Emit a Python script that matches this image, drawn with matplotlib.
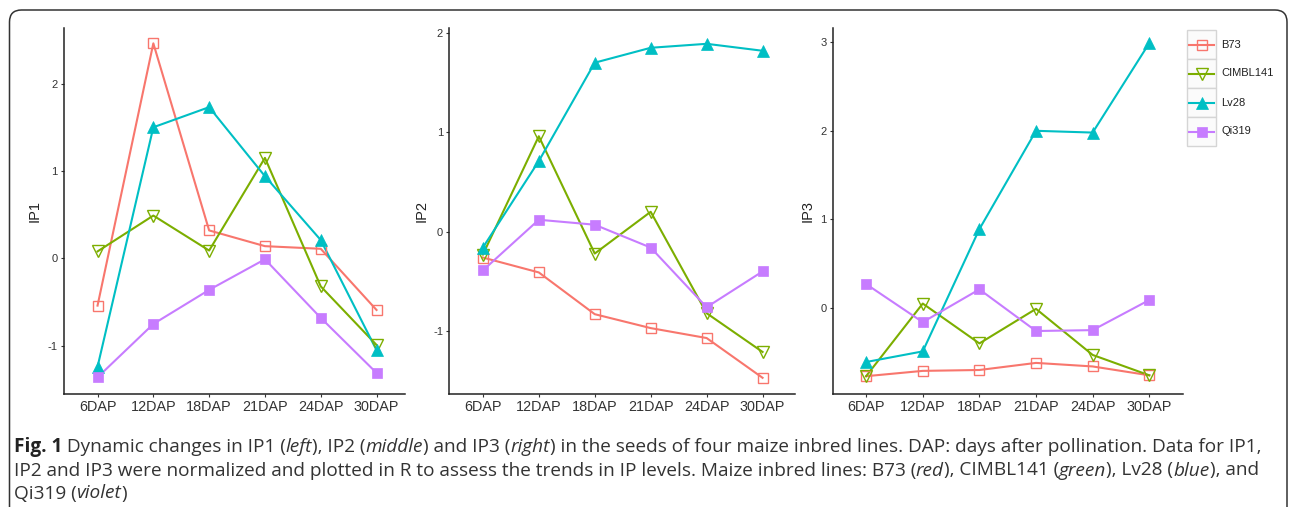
import matplotlib
matplotlib.use('Agg')
import matplotlib.pyplot as plt
from matplotlib.patches import FancyBboxPatch, Rectangle
from matplotlib.lines import Line2D
from matplotlib.transforms import IdentityTransform

# ---------------- data ----------------
stages = ['6DAP', '12DAP', '18DAP', '21DAP', '24DAP', '30DAP']
line_names = ['B73', 'CIMBL141', 'Lv28', 'Qi319']

ip1_b73 = [-0.54, 2.46, 0.32, 0.14, 0.11, -0.59]
ip1_cimbl141 = [0.08, 0.49, 0.09, 1.15, -0.32, -0.99]
ip1_lv28 = [-1.24, 1.50, 1.73, 0.94, 0.21, -1.05]
ip1_qi319 = [-1.36, -0.75, -0.36, -0.01, -0.68, -1.31]

ip2_b73 = [-0.26, -0.41, -0.83, -0.97, -1.07, -1.47]
ip2_cimbl141 = [-0.23, 0.96, -0.22, 0.20, -0.82, -1.21]
ip2_lv28 = [-0.16, 0.71, 1.70, 1.85, 1.89, 1.82]
ip2_qi319 = [-0.39, 0.12, 0.07, -0.16, -0.76, -0.40]

ip3_b73 = [-0.77, -0.71, -0.70, -0.62, -0.66, -0.76]
ip3_cimbl141 = [-0.77, 0.05, -0.40, -0.01, -0.53, -0.76]
ip3_lv28 = [-0.61, -0.49, 0.89, 2.00, 1.98, 2.99]
ip3_qi319 = [0.27, -0.16, 0.21, -0.26, -0.25, 0.09]

y_labels = ['IP1', 'IP2', 'IP3']
y_ticks = [[-1, 0, 1, 2], [-1, 0, 1, 2], [0, 1, 2, 3]]

# ---------------- styles ----------------
colors = ['#F8766D', '#7CAE00', '#00BFC4', '#C77CFF']
markers = ['s', 'v', '^', 's']
filled = [False, False, True, True]
msizes = [7.0, 8.5, 8.5, 7.5]

W, H = 1290, 507
fig = plt.figure(figsize=(W / 100, H / 100), dpi=100)
fig.patch.set_facecolor('white')
FONT = 'Liberation Sans'

panels = [
    [ip1_b73, ip1_cimbl141, ip1_lv28, ip1_qi319],
    [ip2_b73, ip2_cimbl141, ip2_lv28, ip2_qi319],
    [ip3_b73, ip3_cimbl141, ip3_lv28, ip3_qi319],
]
# axes geometry in pixels (left, right) and limits
ax_px = [(63.5, 405.0), (449.3, 795.0), (832.7, 1182.7)]
xlims = [(-0.61, 5.51), (-0.60, 5.58), (-0.59, 5.59)]
ylims = [(-1.551, 2.632), (-1.633, 2.046), (-0.971, 3.157)]
ylab_x = [35.0, 421.7, 808.0]
bottom_px, top_px = 394.0, 28.3

x = list(range(len(stages)))
for i, series in enumerate(panels):
    l, r = ax_px[i]
    ax = fig.add_axes([l / W, 1 - bottom_px / H, (r - l) / W, (bottom_px - top_px) / H])
    for j, vals in enumerate(series):
        c = colors[j]
        ax.plot(x, vals, color=c, lw=1.5, zorder=2)
        ax.plot(x, vals, linestyle='none', marker=markers[j], ms=msizes[j],
                mfc=c if filled[j] else 'none', mec=c, mew=1.0 if not filled[j] else 0.5,
                zorder=3)
    ax.set_xlim(*xlims[i])
    ax.set_ylim(*ylims[i])
    ax.set_xticks(x)
    ax.set_xticklabels(stages, fontfamily=FONT, fontsize=10.4, color='#222222')
    ax.set_yticks(y_ticks[i])
    ax.set_yticklabels([str(t) for t in y_ticks[i]], fontfamily=FONT, fontsize=8, color='#333333')
    for s in ['top', 'right']:
        ax.spines[s].set_visible(False)
    for s in ['left', 'bottom']:
        ax.spines[s].set_linewidth(1.1)
        ax.spines[s].set_color('#222222')
    ax.tick_params(axis='both', direction='out', length=2.5, width=0.8, colors='#333333', pad=2)
    ax.tick_params(axis='x', pad=1.5)
    ax.patch.set_alpha(0)
    fig.text(ylab_x[i] / W, 1 - 211 / H, y_labels[i], rotation=90, ha='center', va='center',
             fontfamily=FONT, fontsize=10.5, color='#222222')

# ---------------- legend ----------------
leg_left, leg_right = 1187.3, 1216.0
leg_top = 30.0
key_h = 29.0
for j, name in enumerate(line_names):
    y0 = leg_top + j * key_h
    rect = Rectangle((leg_left, H - (y0 + key_h)), leg_right - leg_left, key_h,
                     transform=IdentityTransform(), facecolor='#FBFBFB',
                     edgecolor='#D5D5D5', lw=1.0)
    fig.patches.append(rect)
    yc = H - (y0 + key_h / 2)
    c = colors[j]
    fig.lines.append(Line2D([leg_left + 2, leg_right - 2], [yc, yc], color=c, lw=1.5,
                            transform=IdentityTransform()))
    fig.lines.append(Line2D([(leg_left + leg_right) / 2], [yc], linestyle='none',
                            marker=markers[j], ms=msizes[j],
                            mfc=c if filled[j] else 'none', mec=c,
                            mew=1.0 if not filled[j] else 0.5,
                            transform=IdentityTransform()))
    fig.text(1221 / W, yc / H, name, ha='left', va='center', fontfamily=FONT,
             fontsize=8, color='#222222')

# ---------------- border ----------------
border = FancyBboxPatch((9.5, -30), 1287 - 9.5, 497 - (-30),
                        boxstyle='round,pad=0,rounding_size=12',
                        transform=IdentityTransform(), facecolor='none',
                        edgecolor='#333333', lw=1.1)
fig.patches.append(border)

# ---------------- caption ----------------
cap_lines = [
    [('Fig. 1', 'bold'), (' Dynamic changes in IP1 (', 'normal'), ('left', 'italic'),
     ('), IP2 (', 'normal'), ('middle', 'italic'), (') and IP3 (', 'normal'),
     ('right', 'italic'),
     (') in the seeds of four maize inbred lines. DAP: days after pollination. Data for IP1,', 'normal')],
    [('IP2 and IP3 were normalized and plotted in R to assess the trends in IP levels. Maize inbred lines: B73 (', 'normal'),
     ('red', 'italic'), ('), CIMBL141 (', 'normal'), ('green', 'italic'), ('), Lv28 (', 'normal'),
     ('blue', 'italic'), ('), and', 'normal')],
    [('Qi319 (', 'normal'), ('violet', 'italic'), (')', 'normal')],
]
cap_baselines = [55.3, 31.5, 8.5]
cap_x0 = 13.5
CAPFONT = 'Open Sans'
renderer = fig.canvas.get_renderer()


def draw_caption(size):
    arts = []
    widths = []
    for pieces, yb in zip(cap_lines, cap_baselines):
        xx = cap_x0
        for txt, st in pieces:
            kw = dict(fontfamily=CAPFONT, fontsize=size, color='#333333')
            if st == 'bold':
                kw['fontweight'] = 'bold'
                kw['color'] = '#222222'
            elif st == 'italic':
                kw['fontstyle'] = 'italic'
            t = fig.text(xx, yb, txt, transform=IdentityTransform(), ha='left',
                         va='baseline', **kw)
            arts.append(t)
            xx += t.get_window_extent(renderer).width
        widths.append(xx - cap_x0)
    return arts, widths


arts, widths = draw_caption(12)
target = 1262 - cap_x0
new_size = 12 * target / widths[0]
for a in arts:
    a.remove()
draw_caption(new_size)

fig.savefig('out.png', dpi=100)
